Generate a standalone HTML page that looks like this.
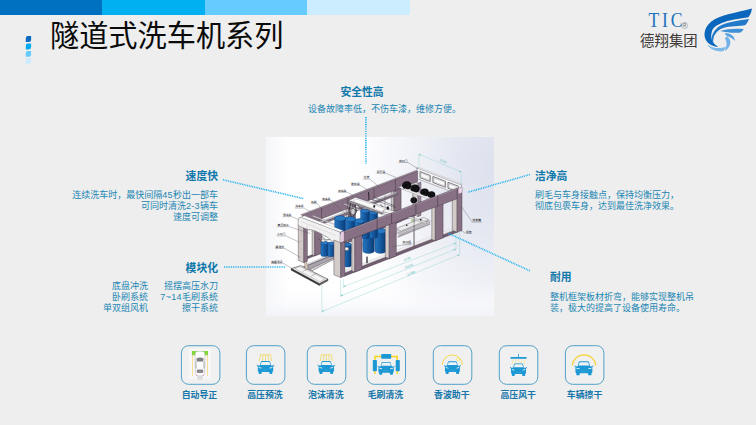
<!DOCTYPE html>
<html lang="zh-CN">
<head>
<meta charset="utf-8">
<title>隧道式洗车机系列</title>
<style>
*{margin:0;padding:0;box-sizing:border-box}
html,body{width:756px;height:425px;overflow:hidden;background:#eeeeee}
body{position:relative;font-family:"Liberation Sans","Noto Sans CJK SC",sans-serif;color:#1f6fa3}
.abs{position:absolute;white-space:nowrap}
.bar{position:absolute;top:0;height:14.5px}
.title{left:50px;top:15.5px;font-size:29.2px;line-height:40px;color:#0a0a0a;letter-spacing:0}
.h{font-weight:bold;font-size:10.8px;line-height:14px;color:#0f78ab}
.p{font-size:9px;line-height:11.3px;color:#2286b3}
.r{text-align:right}
.n{letter-spacing:.35px}
.lab{font-weight:bold;font-size:8.9px;line-height:12px;color:#1576ab;text-align:center;width:60px}
.ico{position:absolute;top:345px;width:39px;height:39.5px;border:1px solid #4a9cc3;border-radius:7.5px;background:#f0f0f0}
svg{position:absolute;left:0;top:0;overflow:visible}
</style>
</head>
<body>
<!-- top colour bar -->
<div class="bar" style="left:0;width:102px;background:#0070c0"></div>
<div class="bar" style="left:102px;width:103px;background:#00b0f0"></div>
<div class="bar" style="left:205px;width:102px;background:#66ccff"></div>
<div class="bar" style="left:307px;width:103px;background:#ccecff"></div>

<div class="abs title">隧道式洗车机系列</div>

<!-- callouts -->
<div class="abs h" style="left:312px;width:100px;top:85.3px;text-align:center">安全性高</div>
<div class="abs p" style="left:308px;top:104.2px">设备故障率低，不伤车漆，维修方便。</div>

<div class="abs h r" style="right:538px;top:169.2px">速度快</div>
<div class="abs p r" style="right:538px;top:190px;line-height:11px">连续洗车时，最快间隔<span class="n">45</span>秒出一部车<br>可同时清洗<span class="n">2-3</span>辆车<br>速度可调整</div>

<div class="abs h r" style="right:538px;top:260.6px">模块化</div>
<div class="abs p r" style="right:608px;top:280.5px">底盘冲洗<br>卧刷系统<br>单双组风机</div>
<div class="abs p r" style="right:538px;top:280.5px">摇摆高压水刀<br><span class="n">7~14</span>毛刷系统<br>擦干系统</div>

<div class="abs h" style="left:535px;top:169.4px">洁净高</div>
<div class="abs p" style="left:535px;top:190px">刷毛与车身接触点，保持均衡压力，<br>彻底包裹车身，达到最佳洗净效果。</div>

<div class="abs h" style="left:550px;top:270px">耐用</div>
<div class="abs p" style="left:550px;top:291.8px">整机框架板材折弯，能够实现整机吊<br>装，极大的提高了设备使用寿命。</div>

<!-- machine picture background -->
<div id="pic" style="position:absolute;left:265.7px;top:137.4px;width:228.4px;height:178.5px;background:linear-gradient(to top,rgba(241,243,248,.95) 0,rgba(248,249,252,.6) 12px,rgba(255,255,255,0) 32px),linear-gradient(to right,rgba(243,244,248,.9) 0,rgba(255,255,255,0) 22px),radial-gradient(ellipse 140px 210px at 100% 18%,#dde1ed 0%,#e5e8f1 30%,#f2f3f8 62%,#ffffff 100%);box-shadow:0 0 1px 0 rgba(255,255,255,.6)"></div>
<svg width="756" height="425" viewBox="0 0 756 425">
<defs>
<linearGradient id="gB" x1="0" x2="1" y1="0" y2="0"><stop offset="0" stop-color="#2576c0"/><stop offset=".45" stop-color="#165ca4"/><stop offset="1" stop-color="#0a3a74"/></linearGradient>
<linearGradient id="gBh" x1="0" x2="0" y1="0" y2="1"><stop offset="0" stop-color="#2a7cc6"/><stop offset=".5" stop-color="#165ca4"/><stop offset="1" stop-color="#0a3a74"/></linearGradient>
<g id="car">
<path fill="#1c98d5" d="M-7.4 -1.9 L-5.6 -1.9 L-4.7 -5.4 Q-4.4 -6.4 -3.4 -6.4 H3.4 Q4.4 -6.4 4.7 -5.4 L5.6 -1.9 L7.4 -1.9 Q8.6 -3 8.8 -2.5 Q9 -1.7 7.6 -1.1 Q7.7 -0.6 7.7 0 V3.4 Q7.7 4.2 6.9 4.2 V5.6 Q6.9 6.4 6.1 6.4 H4.6 Q3.8 6.4 3.8 5.6 V4.4 H-3.8 V5.6 Q-3.8 6.4 -4.6 6.4 H-6.1 Q-6.9 6.4 -6.9 5.6 V4.2 Q-7.7 4.2 -7.7 3.4 V0 Q-7.7 -0.6 -7.6 -1.1 Q-9 -1.7 -8.8 -2.5 Q-8.6 -3 -7.4 -1.9 Z"/>
<path fill="#eef3f6" d="M-4.9 -2.6 L-4 -5.1 Q-3.85 -5.5 -3.4 -5.5 H3.4 Q3.85 -5.5 4 -5.1 L4.9 -2.6 Z"/>
<path fill="#eef3f6" d="M-6.8 -0.6 l2.9 .8 v.7 l-2.9 -.5z M6.8 -0.6 l-2.9 .8 v.7 l2.9 -.5z"/>
<path fill="#4fb3e2" d="M-2.6 2.3 H2.6 V2.8 H-2.6z"/>
</g>
</defs>
<g id="machine">
<polygon points="315.3,267.3 431.7,221.1 422.8,217.5 306.8,263.8" fill="#ecebed" stroke="#a29da8" stroke-width="0.3"/>
<polygon points="313.1,266.4 429.5,220.2 425,218.4 308.9,264.7" fill="#d2ced5" stroke="#8b8692" stroke-width="0.25"/>
<polygon points="340.1,274.5 453.9,230 450.8,228.8 337.1,273.3" fill="#efeef0" stroke="#b5b1b8" stroke-width="0.25"/>
<polygon points="291.2,268.6 300.6,265.6 328,279.2 319.4,283.8" fill="#e8e6e6" stroke="#2a2a2a" stroke-width="0.5"/>
<polygon points="291.2,268.6 319.4,283.8 319.4,285.4 291.2,270.2" fill="#3a3838" stroke="#222" stroke-width="0.35"/>
<polygon points="319.4,283.8 328,279.2 328,280.8 319.4,285.4" fill="#6a6668" stroke="#222" stroke-width="0.35"/>
<polygon points="294.6,268.4 300.2,266.7 324.8,279 319.6,281.8" fill="#f6f5f5" stroke="#77747a" stroke-width="0.3"/>
<line x1="302.5" y1="271.6" x2="308" y2="268.8" stroke="#666" stroke-width="0.4"/>
<line x1="311" y1="276.2" x2="316.8" y2="273.2" stroke="#666" stroke-width="0.4"/>
<polygon points="303.5,266.6 309,264.6 336.5,253 340.5,255.5 312.5,270.6" fill="#d6d3d6" stroke="#3f3b44" stroke-width="0.45"/>
<polygon points="306,266.3 334.5,254.6 337.5,256.2 310.5,268.8" fill="#aaa5ad" stroke="#3f3b44" stroke-width="0.4"/>
<polygon points="304.2,262 306.6,261.2 308,268.6 305.6,269.6" fill="#d8c7b8" stroke="#6f6156" stroke-width="0.3"/>
<polygon points="304.4,260 420.2,213.6 420.2,211.4 304.4,257.8" fill="#715d6f" stroke="#3d3542" stroke-width="0.4"/>
<polygon points="312.1,254.8 314.7,255.9 314.7,220.2 312.1,219.2" fill="#cfc7c6" stroke="#3d3542" stroke-width="0.4"/>
<polygon points="314.7,255.9 321.8,253 321.8,217.4 314.7,220.2" fill="#846e80" stroke="#3d3542" stroke-width="0.4"/>
<polygon points="346,241.2 348.6,242.3 348.6,207.1 346,206.1" fill="#cfc7c6" stroke="#3d3542" stroke-width="0.4"/>
<polygon points="348.6,242.3 355.5,239.5 355.5,204.4 348.6,207.1" fill="#846e80" stroke="#3d3542" stroke-width="0.4"/>
<polygon points="391.3,223 393.9,224.1 393.9,189.5 391.3,188.5" fill="#cfc7c6" stroke="#3d3542" stroke-width="0.4"/>
<polygon points="393.9,224.1 401.1,221.2 401.1,186.7 393.9,189.5" fill="#846e80" stroke="#3d3542" stroke-width="0.4"/>
<line x1="373" y1="231.2" x2="373" y2="197.6" stroke="#5d5560" stroke-width="0.5"/>
<polygon points="412.7,214.4 418.1,216.6 418.1,183.1 412.7,181" fill="#d9d3d1" stroke="#3d3542" stroke-width="0.4"/>
<polygon points="418.1,216.6 421,215.4 421,181.9 418.1,183.1" fill="#9c8c9e" stroke="#3d3542" stroke-width="0.4"/>
<polygon points="416.9,167.8 461.4,184.8 461.4,195.4 416.9,178.6" fill="#f3f2f4" stroke="#5e5a63" stroke-width="0.4"/>
<polygon points="420,177.6 430.2,181.5 430.2,175.5 420,171.6" fill="#fbfbfc" stroke="#2d2b30" stroke-width="0.6" stroke-linejoin="round"/>
<polygon points="420.9,176.7 429.4,180 429.4,176.4 420.9,173.1" fill="none" stroke="#77737b" stroke-width="0.3"/>
<polygon points="432.9,182.5 445.4,187.3 445.4,181.3 432.9,176.5" fill="#fbfbfc" stroke="#2d2b30" stroke-width="0.6" stroke-linejoin="round"/>
<polygon points="433.8,181.7 444.5,185.7 444.5,182.1 433.8,178.1" fill="none" stroke="#77737b" stroke-width="0.3"/>
<polygon points="448,188.3 458.3,192.2 458.3,186.2 448,182.3" fill="#fbfbfc" stroke="#2d2b30" stroke-width="0.6" stroke-linejoin="round"/>
<polygon points="448.9,187.4 457.4,190.7 457.4,187.1 448.9,183.8" fill="none" stroke="#77737b" stroke-width="0.3"/>
<polygon points="416.9,167.8 461.4,184.8 462.6,184.2 418.3,167.2" fill="#ffffff" stroke="#8b8790" stroke-width="0.3"/>
<polygon points="302.4,226.3 417.5,181.6 417.5,171.1 302.4,215.4" fill="#877083" stroke="#3d3542" stroke-width="0.4"/>
<polygon points="300.7,214.7 415.7,170.5 417.5,171.1 302.4,215.4" fill="#a08b9d" stroke="#3d3542" stroke-width="0.25"/>
<line x1="321.5" y1="218.9" x2="321.5" y2="208" stroke="#43353f" stroke-width="0.5"/>
<line x1="347.7" y1="208.7" x2="347.7" y2="197.9" stroke="#43353f" stroke-width="0.5"/>
<line x1="374" y1="198.5" x2="374" y2="187.9" stroke="#43353f" stroke-width="0.5"/>
<line x1="395.4" y1="190.2" x2="395.4" y2="179.6" stroke="#43353f" stroke-width="0.5"/>
<polygon points="309,229.5 397.4,195.2 397.4,192.8 309,227.1" fill="#7d6e80" stroke="#3d3542" stroke-width="0.25"/>
<polygon points="307.3,226.4 395.7,192.1 397.4,192.8 309,227.1" fill="#c8c2ca" stroke="#5b5560" stroke-width="0.2"/>
<polygon points="311.9,216.1 352.8,232.2 354.3,231.7 313.4,215.6" fill="#e9e7ea" stroke="#5b5560" stroke-width="0.25"/>
<polygon points="342.9,204.2 384.4,220.2 385.8,219.6 344.4,203.6" fill="#e9e7ea" stroke="#5b5560" stroke-width="0.25"/>
<line x1="373.5" y1="197" x2="394" y2="205.6" stroke="#3b3940" stroke-width="0.5"/>
<line x1="385" y1="195.5" x2="385" y2="207" stroke="#55525a" stroke-width="0.4"/>
<path d="M375 231 v20 a5.6 2.4 0 0 0 11.2 0 v-20 a5.6 2.4 0 0 0 -11.2 0z" fill="url(#gB)" stroke="#0a3870" stroke-width="0.3"/>
<ellipse cx="380.6" cy="231" rx="5.6" ry="2.4" fill="#2878c2" stroke="#0a3870" stroke-width="0.3"/>
<path d="M362.8 232 v19 a5.8 2.4 0 0 0 11.6 0 v-19 a5.8 2.4 0 0 0 -11.6 0z" fill="url(#gB)" stroke="#0a3870" stroke-width="0.3"/>
<ellipse cx="368.6" cy="232" rx="5.8" ry="2.4" fill="#2878c2" stroke="#0a3870" stroke-width="0.3"/>
<path d="M368.7 212.6 v24 a4.5 1.9 0 0 0 9 0 v-24 a4.5 1.9 0 0 0 -9 0z" fill="url(#gB)" stroke="#0a3870" stroke-width="0.3"/>
<ellipse cx="373.2" cy="212.6" rx="4.5" ry="1.9" fill="#2878c2" stroke="#0a3870" stroke-width="0.3"/>
<path d="M360.5 210.8 v26 a4.5 1.9 0 0 0 9 0 v-26 a4.5 1.9 0 0 0 -9 0z" fill="url(#gB)" stroke="#0a3870" stroke-width="0.3"/>
<ellipse cx="365" cy="210.8" rx="4.5" ry="1.9" fill="#2878c2" stroke="#0a3870" stroke-width="0.3"/>
<polygon points="348.5,200.6 355.5,197.2 389.5,208.8 382.5,213" fill="#f3f2f2" stroke="#3b3840" stroke-width="0.4"/>
<polygon points="353,201 356.6,199.2 385.5,209 381.8,211.2" fill="#ffffff" stroke="#8a8790" stroke-width="0.25"/>
<polygon points="348.5,200.6 382.5,213 382.5,214.6 348.5,202.2" fill="#a9a4a8" stroke="#3b3840" stroke-width="0.3"/>
<polygon points="386,208.8 398.5,212.4 394.5,214.8 382.5,211.6" fill="#f3f2f2" stroke="#3b3840" stroke-width="0.35"/>
<polyline points="350.5,203 349,211.5 352,218 356.5,212 355,204.5" fill="none" stroke="#2a282e" stroke-width="0.8"/>
<polyline points="353,204 352.5,214" fill="none" stroke="#2a282e" stroke-width="0.6"/>
<polyline points="357.5,205 362,210" fill="none" stroke="#2a282e" stroke-width="0.6"/>
<ellipse cx="353" cy="211.6" rx="2.2" ry="3.2" fill="#cfcccf" stroke="#2a282e" stroke-width="0.4"/>
<ellipse cx="387.8" cy="208.0" rx="1.3" ry="1.7" fill="#1b1a1e"/>
<ellipse cx="374.2" cy="206.4" rx="1.0" ry="1.3" fill="#2a282e"/>
<line x1="368.6" y1="192" x2="369" y2="200.4" stroke="#1b1a1e" stroke-width="0.9"/>
<line x1="343" y1="204.6" x2="392" y2="215.8" stroke="#55515a" stroke-width="0.45"/>
<line x1="371" y1="199" x2="396" y2="207.6" stroke="#3b3840" stroke-width="0.5"/>
<path d="M334.6 218.4 v13 a5.6 2.6 0 0 0 11.2 0 v-13 a5.6 2.6 0 0 0 -11.2 0z" fill="url(#gB)" stroke="#0a3870" stroke-width="0.3"/>
<ellipse cx="340.2" cy="218.4" rx="5.6" ry="2.6" fill="#2878c2" stroke="#0a3870" stroke-width="0.3"/>
<path d="M345.4 219.2 v13 a5 2.4 0 0 0 10 0 v-13 a5 2.4 0 0 0 -10 0z" fill="url(#gB)" stroke="#0a3870" stroke-width="0.3"/>
<ellipse cx="350.4" cy="219.2" rx="5" ry="2.4" fill="#2878c2" stroke="#0a3870" stroke-width="0.3"/>
<path d="M354.8 221 v13 a4.6 2.2 0 0 0 9.2 0 v-13 a4.6 2.2 0 0 0 -9.2 0z" fill="url(#gB)" stroke="#0a3870" stroke-width="0.3"/>
<ellipse cx="359.4" cy="221" rx="4.6" ry="2.2" fill="#2878c2" stroke="#0a3870" stroke-width="0.3"/>
<path d="M320.8 243 v12 a3.8 1.6 0 0 0 7.6 0 v-12 a3.8 1.6 0 0 0 -7.6 0z" fill="url(#gB)" stroke="#0a3870" stroke-width="0.3"/>
<ellipse cx="324.6" cy="243" rx="3.8" ry="1.6" fill="#2878c2" stroke="#0a3870" stroke-width="0.3"/>
<path d="M327.8 243.6 v11.6 a3.6 1.5 0 0 0 7.2 0 v-11.6 a3.6 1.5 0 0 0 -7.2 0z" fill="url(#gB)" stroke="#0a3870" stroke-width="0.3"/>
<ellipse cx="331.4" cy="243.6" rx="3.6" ry="1.5" fill="#2878c2" stroke="#0a3870" stroke-width="0.3"/>
<path d="M343.9 244.5 v21 a3.7 1.6 0 0 0 7.4 0 v-21 a3.7 1.6 0 0 0 -7.4 0z" fill="url(#gB)" stroke="#0a3870" stroke-width="0.3"/>
<ellipse cx="347.6" cy="244.5" rx="3.7" ry="1.6" fill="#2878c2" stroke="#0a3870" stroke-width="0.3"/>
<polyline points="321.5,236 325.5,240 331,239.5 335,235.5" fill="none" stroke="#3a3840" stroke-width="0.7"/>
<polyline points="318.5,238.5 322,242" fill="none" stroke="#3a3840" stroke-width="0.5"/>
<ellipse cx="323.2" cy="240.6" rx="1.8" ry="1.4" fill="#e9e7e8" stroke="#3a3840" stroke-width="0.3"/>
<ellipse cx="346.4" cy="249.0" rx="2.6" ry="1.8" fill="#f4f4f4" stroke="#55525a" stroke-width="0.3"/>
<polyline points="343,246.5 346,251.5 349.5,248" fill="none" stroke="#2f2d33" stroke-width="0.5"/>
<polygon points="398.5,187.6 401.5,186 437.5,199 434.5,201" fill="#efeeee" stroke="#55525a" stroke-width="0.3"/>
<ellipse cx="406.8" cy="185.4" rx="4.7" ry="4.2" fill="#0d0c10"/>
<ellipse cx="406" cy="185.4" rx="2.4" ry="2.8" fill="none" stroke="#3d3a42" stroke-width="0.3"/>
<ellipse cx="415" cy="188.6" rx="4.7" ry="4.2" fill="#0d0c10"/>
<ellipse cx="414.2" cy="188.6" rx="2.4" ry="2.8" fill="none" stroke="#3d3a42" stroke-width="0.3"/>
<ellipse cx="424.6" cy="192.4" rx="4.3" ry="3.9" fill="#0d0c10"/>
<ellipse cx="423.8" cy="192.4" rx="2.1" ry="2.6" fill="none" stroke="#3d3a42" stroke-width="0.3"/>
<ellipse cx="431.4" cy="194.8" rx="3.9" ry="3.5" fill="#0d0c10"/>
<ellipse cx="430.6" cy="194.8" rx="1.9" ry="2.3" fill="none" stroke="#3d3a42" stroke-width="0.3"/>
<ellipse cx="413.8" cy="200.2" rx="3.3" ry="3" fill="#0d0c10"/>
<ellipse cx="413" cy="200.2" rx="1.6" ry="2" fill="none" stroke="#3d3a42" stroke-width="0.3"/>
<polygon points="403,189.6 405,188.6 433,198.8 431,199.9" fill="#f4f3f3" stroke="#77737b" stroke-width="0.25"/>
<line x1="414" y1="196" x2="414" y2="247" stroke="#3b3940" stroke-width="0.5"/>
<polygon points="396.5,228.6 424,217.4 428.5,219.6 401,231" fill="#ecebec" stroke="#55525a" stroke-width="0.3"/>
<polygon points="398,233.2 428,221 430,222.4 400,234.8" fill="#c6c2c8" stroke="#55525a" stroke-width="0.25"/>
<polygon points="398,236 430,223.2 430,224.6 398,237.4" fill="#a9a4ab" stroke="#55525a" stroke-width="0.2"/>
<polygon points="409,216 427,222 425,223.4 407,217.4" fill="#dcdadc" stroke="#55525a" stroke-width="0.25"/>
<rect x="411.2" y="220.2" width="2.2" height="1.2" fill="#7fc241"/>
<rect x="406.0" y="224.6" width="1.4" height="1.4" fill="#222"/>
<rect x="420.0" y="219.0" width="1.4" height="1.4" fill="#222"/>
<polyline points="383,207 380.5,204" fill="none" stroke="#222" stroke-width="0.6"/>
<polygon points="298.3,260.4 303.8,262.6 303.8,226.7 298.3,224.6" fill="#d3cbc8" stroke="#3d3542" stroke-width="0.4"/>
<polygon points="303.8,262.6 307.4,261.2 307.4,225.4 303.8,226.7" fill="#877083" stroke="#3d3542" stroke-width="0.4"/>
<circle cx="301.4" cy="233" r="0.35" fill="#555"/>
<circle cx="301.4" cy="241" r="0.35" fill="#555"/>
<circle cx="301.4" cy="249" r="0.35" fill="#555"/>
<path d="M298.3 219.6 Q298.4 217 300.9 217.2 L340.1 232.1 L340.1 243.2 Q332.7 242.7 327.7 237.4 Q312.3 228.2 307.8 229.6 L298.3 225.8 Q297.9 221.6 298.3 219.6 Z" fill="#f2f1f2" stroke="#55515a" stroke-width="0.4" stroke-linejoin="round"/>
<polygon points="300.9,217.2 340.1,232.1 343.3,230.7 304.3,215.8" fill="#ffffff" stroke="#77737b" stroke-width="0.3"/>
<line x1="301.3" y1="221.6" x2="336.7" y2="235.7" stroke="#b7b3ba" stroke-width="0.35"/>
<polyline points="306.8,225.8 307.9,230 327.7,237.4" fill="none" stroke="#8d8990" stroke-width="0.3"/>
<polygon points="340.7,243.2 344.3,241.8 344.3,230.9 340.7,232.3" fill="#eccfe4" stroke="#8d7c8f" stroke-width="0.3"/>
<polygon points="344.3,276.2 457.1,232.3 457.1,229.4 344.3,273.2" fill="#715d6f" stroke="#3d3542" stroke-width="0.4"/>
<polygon points="351.8,270.9 354.8,272.1 354.8,236 351.8,234.8" fill="#d3cbc8" stroke="#3d3542" stroke-width="0.4"/>
<polygon points="354.8,272.1 362,269.3 362,233.2 354.8,236" fill="#877083" stroke="#3d3542" stroke-width="0.4"/>
<polygon points="385.3,257.1 389.2,258.7 389.2,222.8 385.3,221.3" fill="#d3cbc8" stroke="#3d3542" stroke-width="0.4"/>
<polygon points="389.2,258.7 396.3,256 396.3,220.1 389.2,222.8" fill="#877083" stroke="#3d3542" stroke-width="0.4"/>
<polygon points="431.8,239.4 435.3,240.8 435.3,205.2 431.8,203.9" fill="#d3cbc8" stroke="#3d3542" stroke-width="0.4"/>
<polygon points="435.3,240.8 443.1,237.8 443.1,202.3 435.3,205.2" fill="#877083" stroke="#3d3542" stroke-width="0.4"/>
<line x1="414.1" y1="247.7" x2="414.1" y2="213.3" stroke="#5d5560" stroke-width="0.5"/>
<polygon points="333.9,274.8 340.7,277.6 340.7,242.7 333.9,240" fill="#d3cbc8" stroke="#3d3542" stroke-width="0.4"/>
<polygon points="340.7,277.6 344.9,275.9 344.9,241.1 340.7,242.7" fill="#877083" stroke="#3d3542" stroke-width="0.4"/>
<polygon points="452.3,230.3 457.1,232.3 457.1,196.9 452.3,195.1" fill="#d3cbc8" stroke="#3d3542" stroke-width="0.4"/>
<polygon points="457.1,232.3 462,230.4 462,187.1 457.1,188.9" fill="#877083" stroke="#3d3542" stroke-width="0.4"/>
<polygon points="458.4,193.8 462,192.4 462,187.1 458.4,188.5" fill="#efd6ea" stroke="#9c8aa0" stroke-width="0.25"/>
<polygon points="344.3,241.8 457.1,198.7 457.1,188 344.3,230.9" fill="#877083" stroke="#3d3542" stroke-width="0.4"/>
<line x1="344.3" y1="231.6" x2="457.1" y2="188.7" stroke="#b2a2b4" stroke-width="0.5"/>
<line x1="377.1" y1="229.3" x2="377.1" y2="218.5" stroke="#43353f" stroke-width="0.6"/>
<line x1="391.6" y1="223.7" x2="391.6" y2="212.9" stroke="#43353f" stroke-width="0.6"/>
<line x1="415.9" y1="214.4" x2="415.9" y2="203.7" stroke="#43353f" stroke-width="0.6"/>
<line x1="437.7" y1="206.1" x2="437.7" y2="195.4" stroke="#43353f" stroke-width="0.6"/>
<rect x="366.4" y="256.6" width="1.2" height="6.6" fill="#1d1c20"/>
</g>
<g id="annot">
<g fill="none" stroke="#93d4d0" stroke-width="0.42">
<path d="M343.4 279V288M340.6 280V297.2M321.8 284.8V312.8M456 232.5V250M459.6 231.5V255.6"/>
<path d="M343.4 286.8L456 242.9M340.6 296L456 249M321.8 311.6L459.6 254.6"/>
<path d="M418.9 153.2V167.5M461.2 171V185M418.9 154.2L461.2 172"/>
</g>
<g fill="#6cc4bf" stroke="none">
<path d="M343.4 286.8l2.4-.3-.6-1.4zM456 242.9l-2.4.3.6 1.4zM340.6 296l2.4-.3-.6-1.4zM456 249l-2.4.3.6 1.4zM321.8 311.6l2.4-.3-.6-1.4zM459.6 254.6l-2.4.3.6 1.4zM418.9 154.2l2.3.2-.6 1.4zM461.2 172l-2.3-.2.6-1.4z"/>
</g>
<g font-family="'Liberation Sans',sans-serif" font-size="3.2" fill="#5bbdb8" text-anchor="middle">
<text transform="translate(442.5 162.3) rotate(23)">3780</text>
<text transform="translate(407.7 260) rotate(-21)">6750</text>
<text transform="translate(409.2 267.2) rotate(-21)">10230</text>
<text transform="translate(411.4 274.4) rotate(-22)">11480</text>
</g>
<g fill="none" stroke="#55515a" stroke-width="0.35">
<path d="M398.7 162.5H408.0L418.0 168.8"/>
<path d="M376.5 173.3H385.8L396.2 177.5"/>
<path d="M363.3 179.1H369.8L380.3 188.0"/>
<path d="M351.0 185.3H360.3L369.7 191.3"/>
<path d="M337.7 192.2H347.0L353.8 195.8"/>
<path d="M321.7 200.3H331.0L347.5 215.6"/>
<path d="M310.7 203.7H317.2L323.1 210.3"/>
<path d="M294.9 208.1H304.2L311.5 212.4"/>
<path d="M282.6 216.7H291.9L298.8 219.8"/>
<path d="M277.3 226.7H289.4L310.4 233.6"/>
<path d="M276.6 235.9H285.9L300.0 242.5"/>
<path d="M275.3 248.3H284.6L300.5 257.5"/>
<path d="M271.0 263.3H283.1L293.5 269.4"/>
<path d="M481.6 222.1H472.3L461.8 207.0"/>
<path d="M472.2 233.3H465.7L461 230.6"/>
<path d="M402.3 243.9H411.6L392.0 246.6"/>
</g>
<g font-family="'Liberation Sans','Noto Sans CJK SC',sans-serif" font-size="2.8" font-weight="500" fill="#26242a">
<text x="399.0" y="161.8">出口门</text>
<text x="376.8" y="172.6">风干段</text>
<text x="363.6" y="178.4">过渡</text>
<text x="351.3" y="184.6">抛光段</text>
<text x="338.0" y="191.5">冲洗段</text>
<text x="322.0" y="199.6">泡沫段</text>
<text x="311.0" y="203.0">毛刷</text>
<text x="295.2" y="207.4">洗车段</text>
<text x="282.9" y="216.0">预洗段</text>
<text x="277.6" y="226.0">高压喷水</text>
<text x="276.9" y="235.2">入口门</text>
<text x="275.6" y="247.6">输送机</text>
<text x="271.3" y="262.6">底盘导正</text>
<text x="472.6" y="221.4">控制箱</text>
<text x="466.0" y="232.6">机架</text>
<text x="402.6" y="243.2">出口段</text>
</g>

</g>
<!-- dotted leader lines -->
<g fill="none" stroke="#17aff0" stroke-width="1.6" stroke-dasharray="0.9 0.87">
<path d="M365.9 117V163.4"/>
<path d="M223 179.8L304 198.7"/>
<path d="M224 267H286"/>
<path d="M529.8 174.6L468 192.2"/>
<path d="M529.8 270.8L448.5 233.4"/>
</g>
<!-- title bullets -->
<g>
<path d="M27.6 36.1h3.5v3.6q0 2.3-2.3 2.3h-3v-3.6q0-2.3 1.8-2.3z" fill="#0a6ac0"/>
<path d="M27.6 43.5h3.5v3.6q0 2.3-2.3 2.3h-3v-3.6q0-2.3 1.8-2.3z" fill="#00aaee"/>
<path d="M27.6 50.9h3.5v3.6q0 2.3-2.3 2.3h-3v-3.6q0-2.3 1.8-2.3z" fill="#66ccff"/>
<path d="M27.6 58.2h3.5v3.6q0 2.3-2.3 2.3h-3v-3.6q0-2.3 1.8-2.3z" fill="#ccebff"/>
</g>
<!-- logo -->
<g font-family="'Liberation Serif',serif">
<text x="0" y="0" transform="translate(648.6 27.3) scale(.8 1)" font-size="22" letter-spacing="3.4" fill="#1c72be">TIC</text>
<text x="681.6" y="28.6" font-family="'Liberation Sans',sans-serif" font-size="8.6" fill="#7a7a7a">®</text>
</g>
<text x="640.1" y="45.6" font-family="'Liberation Sans','Noto Sans CJK SC',sans-serif" font-size="14.4" font-weight="400" fill="#3e3a39">德翔集团</text>
<g transform="translate(696 5) scale(.11765)">
<path fill="#0b67bd" d="M475 30C350 65 200 85 130 140C60 195 50 290 120 335C150 352 175 357 190 355C150 335 115 290 135 225C160 150 300 125 445 105C465 80 473 55 475 30Z"/>
<path fill="#2279c9" d="M450 120C330 138 215 150 165 210C128 255 125 300 148 328C138 270 170 215 232 195C290 177 372 182 420 170C435 155 445 138 450 120Z"/>
<path fill="#3f8fd6" d="M405 205C340 198 270 200 205 222C262 236 340 241 380 233C392 226 400 216 405 205Z"/>
<path fill="#5aa2df" d="M244 238C296 240 326 262 332 306C312 286 290 272 258 262Z"/>
<path fill="#6fb0e6" d="M262 266C306 295 304 352 244 394C264 352 266 312 246 284Z"/>
<path fill="#7cb9ea" d="M95 335C140 367 200 377 258 352C250 372 240 384 228 394C172 397 120 377 95 335Z"/>
</g>
<!-- icon boxes -->
<g fill="#f0f0f0" stroke="#52a1c7" stroke-width="1">
<rect x="181.4" y="345.7" width="38.5" height="38.6" rx="7.2"/>
<rect x="246.4" y="345.7" width="38.5" height="38.6" rx="7.2"/>
<rect x="307.3" y="345.7" width="38.5" height="38.6" rx="7.2"/>
<rect x="367" y="345.7" width="38.5" height="38.6" rx="7.2"/>
<rect x="433.3" y="345.7" width="38.5" height="38.6" rx="7.2"/>
<rect x="499.3" y="345.7" width="38.5" height="38.6" rx="7.2"/>
<rect x="565.4" y="345.7" width="38.5" height="38.6" rx="7.2"/>
</g>
<!-- icon 1 : auto alignment (top view) -->
<g>
<rect x="188.9" y="348.8" width="22.1" height="30.6" fill="#f7f7f7"/>
<rect x="191.9" y="351" width="16.1" height="4.3" fill="#86d53a"/>
<path d="M192.5 355.3V376M207.5 355.3V376" stroke="#f6d66a" stroke-width=".7" fill="none"/>
<ellipse cx="200" cy="377.6" rx="3" ry="2.6" fill="#d9d9d9" opacity=".8"/>
<rect x="195.2" y="351.3" width="9.6" height="24.6" rx="3.2" fill="#fdfdfd" stroke="#b9b9b9" stroke-width=".5"/>
<path d="M196.4 358.6Q200 356.6 203.6 358.6L203 361.6H197Z" fill="#7e7e82"/>
<path d="M197 369.6H203L203.5 372.4Q200 373.6 196.5 372.4Z" fill="#8a8a8e"/>
<path d="M196 361.2v7.4M204 361.2v7.4" stroke="#8d8d90" stroke-width=".7"/>
<path d="M194.6 359.4l1 .6M205.4 359.4l-1 .6" stroke="#999" stroke-width=".6"/>
<path d="M196 375.4h1.4M202.6 375.4h1.4" stroke="#d66" stroke-width=".5"/>
</g>
<!-- icon 2 & 3 : spray -->
<g stroke="#f2cf2e" stroke-width=".75" fill="none" stroke-dasharray="1.1 .3">
<path d="M260.6 354.7L259.4 361M263 354.7L262.5 361M265.5 354.7V361M268 354.7L268.5 361M270.4 354.7L271.6 361"/>
<path d="M321.4 354.7L320.2 361M323.8 354.7L323.3 361M326.3 354.7V361M328.8 354.7L329.3 361M331.2 354.7L332.4 361"/>
</g>
<path d="M260.4 354.8H270.6M321.2 354.8H331.4" stroke="#f4d443" stroke-width=".6"/>
<use href="#car" transform="translate(265.5 367.5)"/>
<use href="#car" transform="translate(326.3 367.5)"/>
<!-- icon 4 : brushes -->
<path d="M374.9 374V356.5H397.2V374" fill="none" stroke="#f7d417" stroke-width="1.4" stroke-linejoin="round"/>
<rect x="381.2" y="354.1" width="10" height="4.7" rx=".8" fill="#1c98d5"/>
<rect x="372.8" y="360" width="4.1" height="11.2" rx=".8" fill="#1c98d5"/>
<rect x="395.7" y="360" width="4.1" height="11.2" rx=".8" fill="#1c98d5"/>
<use href="#car" transform="translate(386.1 368.3)"/>
<!-- icon 5 : wax -->
<path d="M442.3 364.9A10 10 0 0 1 462.3 364.9" fill="none" stroke="#f6da45" stroke-width="1"/>
<path d="M458.2 357.4L459 358.8L460.4 359.4L459 360L458.2 361.4L457.4 360L456 359.4L457.4 358.8Z" fill="#fdf6c8" stroke="#f6da45" stroke-width=".4"/>
<use href="#car" transform="translate(452.4 367.7) scale(.97 1)"/>
<!-- icon 6 : air dry -->
<g stroke="#f7e27a" stroke-width=".6" fill="none">
<path d="M512.6 359.4q.8 1.1 0 2.3t0 2.3M515.5 359.4q.8 1.1 0 2.3t0 2.3M518.5 359.4q.8 1.1 0 2.3t0 2.3M521.4 359.4q.8 1.1 0 2.3t0 2.3M524.3 359.4q.8 1.1 0 2.3t0 2.3"/>
</g>
<path d="M518.1 353.9h.8v3.1h7.6v1.8h-16v-1.8h7.6z" fill="#1c98d5"/>
<use href="#car" transform="translate(518.5 369.7) scale(.97 .97)"/>
<!-- icon 7 : wipe dry -->
<path d="M572.3 365.4A11.8 11.6 0 0 1 595.8 365.4" fill="none" stroke="#f5d33a" stroke-width="1.2"/>
<use href="#car" transform="translate(583.9 368.3) scale(1.1 1.1)"/>
</svg>
<div class="abs lab" style="left:169.4px;top:388.6px">自动导正</div>
<div class="abs lab" style="left:234.9px;top:388.6px">高压预洗</div>
<div class="abs lab" style="left:295.8px;top:388.6px">泡沫清洗</div>
<div class="abs lab" style="left:355.5px;top:388.6px">毛刷清洗</div>
<div class="abs lab" style="left:421.8px;top:388.6px">香波助干</div>
<div class="abs lab" style="left:488.2px;top:388.6px">高压风干</div>
<div class="abs lab" style="left:554.6px;top:388.6px">车辆擦干</div>
</body>
</html>
